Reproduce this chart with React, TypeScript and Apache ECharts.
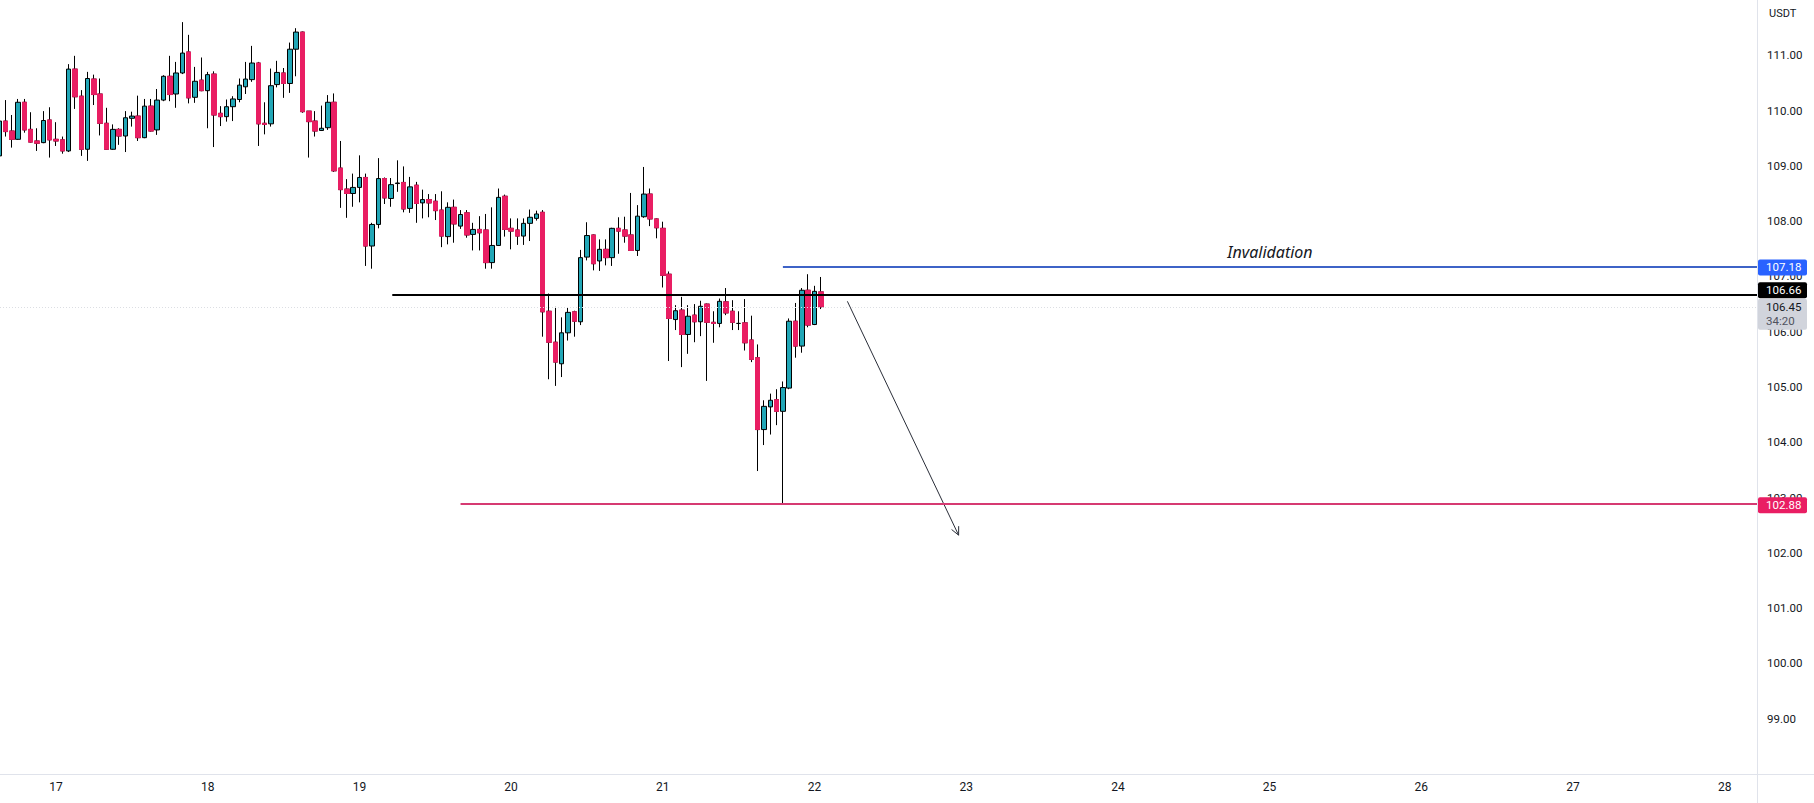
import React, { useEffect, useRef } from 'react';
import * as echarts from 'echarts';

// hourly candles; x = hours counted from the 16th 00:00
const FIRST_HOUR = 15;
const OPEN = [
  109.18, 109.81, 109.63, 109.48, 110.15, 109.66, 109.45, 109.42, 109.83, 109.48,
  109.47, 109.27, 110.75, 110.26, 109.30, 110.57, 110.30, 109.77, 109.30, 109.66,
  109.54, 109.86, 109.90, 109.51, 110.08, 109.65, 110.19, 110.62, 110.30, 110.68,
  111.06, 110.24, 110.55, 110.36, 110.66, 109.95, 109.89, 110.07, 110.20, 110.43,
  110.56, 110.86, 109.77, 109.76, 110.47, 110.68, 110.49, 111.11, 111.42, 109.99,
  109.81, 109.64, 109.69, 110.15, 108.96, 108.58, 108.50, 108.61, 108.79, 107.55,
  107.94, 108.77, 108.41, 108.68, 108.70, 108.23, 108.65, 108.33, 108.39, 108.36,
  108.20, 107.72, 108.25, 107.91, 108.15, 107.76, 107.85, 107.84, 107.25, 107.56,
  108.45, 107.87, 107.84, 107.73, 107.96, 108.05, 108.16, 106.37, 105.81, 105.42,
  105.98, 106.36, 106.18, 107.35, 107.75, 107.28, 107.49, 107.34, 107.87, 107.84,
  107.75, 107.47, 108.08, 108.49, 108.04, 107.87, 107.04, 106.22, 106.39, 105.95,
  106.30, 106.18, 106.50, 106.17, 106.15, 106.54, 106.37, 106.15, 106.16, 105.85,
  105.53, 104.23, 104.64, 104.77, 104.56, 104.98, 106.19, 105.74, 106.75, 106.13,
  106.72,
];
const CLOSE = [
  109.81, 109.62, 109.48, 110.15, 109.65, 109.43, 109.41, 109.82, 109.47, 109.45,
  109.27, 110.75, 110.25, 109.30, 110.58, 110.29, 109.77, 109.30, 109.66, 109.54,
  109.87, 109.90, 109.51, 110.08, 109.63, 110.19, 110.62, 110.29, 110.68, 111.04,
  110.23, 110.53, 110.36, 110.65, 109.92, 109.89, 110.07, 110.21, 110.46, 110.57,
  110.86, 109.76, 109.75, 110.45, 110.69, 110.49, 111.11, 111.42, 109.98, 109.80,
  109.63, 109.68, 110.15, 108.91, 108.57, 108.50, 108.61, 108.79, 107.55, 107.94,
  108.77, 108.42, 108.66, 108.69, 108.22, 108.62, 108.32, 108.39, 108.33, 108.19,
  107.73, 108.25, 107.95, 108.12, 107.75, 107.85, 107.79, 107.25, 107.56, 108.43,
  107.85, 107.82, 107.73, 107.96, 108.07, 108.13, 106.36, 105.81, 105.45, 105.98,
  106.35, 106.19, 107.34, 107.74, 107.23, 107.49, 107.34, 107.87, 107.82, 107.73,
  107.47, 108.09, 108.49, 108.04, 107.88, 107.02, 106.24, 106.38, 105.95, 106.28,
  106.18, 106.46, 106.17, 106.15, 106.55, 106.34, 106.17, 106.15, 105.80, 105.50,
  104.23, 104.65, 104.76, 104.56, 104.99, 106.19, 105.74, 106.75, 106.12, 106.73,
  106.45,
];
const HIGH = [
  109.95, 110.19, 109.92, 110.21, 110.21, 109.97, 109.68, 109.99, 110.06, 109.79,
  109.53, 110.84, 110.99, 110.37, 110.70, 110.65, 110.58, 110.05, 109.75, 109.68,
  109.99, 109.98, 110.27, 110.21, 110.21, 110.39, 110.64, 110.99, 110.88, 111.60,
  111.37, 110.79, 110.96, 110.70, 110.71, 110.08, 110.20, 110.26, 110.58, 110.88,
  111.17, 110.88, 110.15, 110.76, 110.90, 110.77, 111.23, 111.49, 111.43, 109.99,
  109.99, 110.09, 110.28, 110.31, 109.45, 108.76, 108.86, 109.19, 108.86, 107.97,
  109.14, 108.79, 108.78, 109.10, 108.99, 108.80, 108.71, 108.57, 108.49, 108.49,
  108.54, 108.34, 108.39, 108.20, 108.20, 107.97, 108.09, 108.13, 108.25, 108.59,
  108.48, 108.05, 108.05, 108.05, 108.21, 108.19, 108.20, 106.69, 106.45, 106.26,
  106.43, 106.38, 107.48, 107.98, 107.76, 107.67, 107.67, 107.88, 108.07, 108.08,
  108.51, 108.29, 108.98, 108.59, 108.05, 107.99, 107.09, 106.48, 106.63, 106.48,
  106.50, 106.56, 106.51, 106.37, 106.60, 106.79, 106.57, 106.37, 106.59, 106.29,
  105.77, 104.76, 104.88, 104.96, 105.10, 106.24, 106.52, 106.79, 107.04, 106.83,
  106.99,
];
const LOW = [
  109.16, 109.53, 109.33, 109.47, 109.60, 109.42, 109.27, 109.41, 109.15, 109.36,
  109.22, 109.25, 110.03, 109.18, 109.09, 110.10, 109.55, 109.29, 109.29, 109.38,
  109.25, 109.71, 109.45, 109.50, 109.62, 109.56, 110.17, 110.17, 110.05, 110.66,
  110.13, 110.14, 110.35, 109.68, 109.34, 109.72, 109.80, 109.81, 110.15, 110.30,
  110.52, 109.36, 109.57, 109.71, 110.42, 110.23, 110.32, 110.62, 109.96, 109.15,
  109.53, 109.63, 109.65, 108.89, 108.24, 108.06, 108.26, 108.34, 107.19, 107.14,
  107.87, 108.31, 108.26, 108.53, 108.16, 108.15, 107.97, 108.05, 108.07, 108.02,
  107.53, 107.58, 107.61, 107.86, 107.70, 107.47, 107.47, 107.14, 107.14, 107.55,
  107.72, 107.49, 107.57, 107.57, 107.64, 108.01, 105.91, 105.14, 105.02, 105.18,
  105.84, 105.91, 106.12, 107.29, 107.11, 107.10, 107.20, 107.19, 107.41, 107.61,
  107.46, 107.37, 108.06, 107.91, 107.69, 106.80, 105.47, 106.03, 105.36, 105.60,
  105.81, 105.92, 105.11, 105.80, 106.08, 106.30, 106.03, 106.03, 105.66, 105.45,
  103.48, 103.95, 104.14, 104.31, 102.88, 104.96, 105.53, 105.62, 106.08, 106.12,
  106.41,
];

// axes
const X_MIN = 15.14;
const X_MAX = 293.11;
const DAY_TICKS = [24, 48, 72, 96, 120, 144, 168, 192, 216, 240, 264, 288];
const DAY_LABELS = ['17', '18', '19', '20', '21', '22', '23', '24', '25', '26', '27', '28'];
const Y_MIN = 98;
const Y_MAX = 112;
const Y_STEP = 1;
const CURRENCY = 'USDT';

// drawings
const SUPPORT_LEVEL = 106.66;
const SUPPORT_FROM = 77.2;
const INVALIDATION_LEVEL = 107.18;
const INVALIDATION_FROM = 139.0;
const INVALIDATION_TEXT = 'Invalidation';
const TARGET_LEVEL = 102.88;
const TARGET_FROM = 88.0;
const LAST_PRICE = 106.45;
const COUNTDOWN = '34:20';
const ARROW = [149.2, 106.55, 166.8, 102.32];

// price tags on the scale
const TAG_PRICES = [INVALIDATION_LEVEL, SUPPORT_LEVEL, LAST_PRICE, TARGET_LEVEL];
const TAG_TEXT = ['107.18', '106.66', '106.45', '102.88'];
const TAG_SUB = ['', '', COUNTDOWN, ''];
const TAG_BG = ['#2962FF', '#000000', '#D1D4DC', '#E91E63'];
const TAG_FG = ['#FFFFFF', '#FFFFFF', '#131722', '#FFFFFF'];
const TAG_SHIFT = [1, -5, 0, 1];

const UP = '#22A7B7';
const DOWN = '#E91E63';
const FONT = 'Roboto, "Liberation Sans", sans-serif';

export default function App() {
  const ref = useRef<HTMLDivElement>(null);
  useEffect(() => {
    if (!ref.current) return;
    const chart = echarts.init(ref.current, null, { renderer: 'svg' });
    const candles = OPEN.map((o, i) => [FIRST_HOUR + i, o, CLOSE[i], LOW[i], HIGH[i]]);
    const downBodies = candles
      .filter((d) => d[2] < d[1])
      .map((d) => [d[0], d[1], d[2], d[2], d[1]]);

    chart.setOption({
      animation: false,
      backgroundColor: '#ffffff',
      grid: { left: 0, right: 57, top: 0, bottom: 29, containLabel: false },
      xAxis: {
        type: 'value',
        min: X_MIN,
        max: X_MAX,
        axisLine: { show: false },
        axisTick: { show: false },
        splitLine: { show: false },
        axisLabel: {
          customValues: DAY_TICKS,
          formatter: (v: number) => {
            const k = DAY_TICKS.indexOf(Math.round(v));
            return k >= 0 ? DAY_LABELS[k] : '';
          },
          color: '#131722',
          fontSize: 12,
          fontFamily: FONT,
          margin: 7,
        },
      },
      yAxis: {
        type: 'value',
        position: 'right',
        min: Y_MIN,
        max: Y_MAX,
        interval: Y_STEP,
        axisLine: { show: false },
        axisTick: { show: false },
        splitLine: { show: false },
        axisLabel: {
          showMinLabel: false,
          showMaxLabel: false,
          formatter: (v: number) => v.toFixed(2),
          color: '#131722',
          fontSize: 11.5,
          fontFamily: FONT,
          margin: 10,
        },
      },
      graphic: [
        { type: 'line', silent: true, shape: { x1: 0, y1: 774.5, x2: 1814, y2: 774.5 }, style: { stroke: '#E0E3EB', lineWidth: 1 } },
        { type: 'line', silent: true, shape: { x1: 1757.5, y1: 0, x2: 1757.5, y2: 803 }, style: { stroke: '#E0E3EB', lineWidth: 1 } },
        { type: 'text', silent: true, x: 1769, y: 8, style: { text: CURRENCY, fill: '#131722', fontSize: 11, fontFamily: FONT } },
      ],
      series: [
        {
          type: 'candlestick',
          data: candles,
          barWidth: 5,
          itemStyle: { color: UP, color0: DOWN, borderColor: '#000000', borderColor0: '#000000', borderColorDoji: '#000000', borderWidth: 1 },
          markLine: {
            silent: true,
            symbol: 'none',
            animation: false,
            label: { show: false },
            data: [
              [
                { coord: [X_MIN, LAST_PRICE], lineStyle: { color: '#DCDEE3', width: 1, type: [1, 2] } },
                { coord: [X_MAX, LAST_PRICE] },
              ],
              [
                { coord: [SUPPORT_FROM, SUPPORT_LEVEL], lineStyle: { color: '#000000', width: 2, type: 'solid' } },
                { coord: [X_MAX, SUPPORT_LEVEL] },
              ],
              [
                {
                  coord: [INVALIDATION_FROM, INVALIDATION_LEVEL],
                  lineStyle: { color: '#3E63C7', width: 2, type: 'solid' },
                  label: {
                    show: true,
                    formatter: INVALIDATION_TEXT,
                    position: 'insideMiddleTop',
                    distance: 6,
                    color: '#131722',
                    fontStyle: 'italic',
                    fontSize: 16,
                    fontFamily: '"Noto Sans", sans-serif',
                  },
                },
                { coord: [X_MAX, INVALIDATION_LEVEL] },
              ],
              [
                { coord: [TARGET_FROM, TARGET_LEVEL], lineStyle: { color: '#D63A72', width: 2, type: 'solid' } },
                { coord: [X_MAX, TARGET_LEVEL] },
              ],
            ],
          },
        },
        {
          type: 'candlestick',
          data: downBodies,
          barWidth: 5,
          silent: true,
          itemStyle: { color: UP, color0: DOWN, borderColor: DOWN, borderColor0: DOWN, borderWidth: 1 },
        },
        {
          type: 'custom',
          coordinateSystem: 'cartesian2d',
          silent: true,
          data: [ARROW],
          encode: { x: [0, 2], y: [1, 3] },
          renderItem: (params: any, api: any) => {
            const p1 = api.coord([api.value(0), api.value(1)]);
            const p2 = api.coord([api.value(2), api.value(3)]);
            const ang = Math.atan2(p2[1] - p1[1], p2[0] - p1[0]);
            const L = 9;
            const s = 0.45;
            const h1 = [p2[0] - L * Math.cos(ang - s), p2[1] - L * Math.sin(ang - s)];
            const h2 = [p2[0] - L * Math.cos(ang + s), p2[1] - L * Math.sin(ang + s)];
            return {
              type: 'group',
              children: [
                { type: 'line', shape: { x1: p1[0], y1: p1[1], x2: p2[0], y2: p2[1] }, style: { stroke: '#2A2E39', lineWidth: 1 } },
                { type: 'polyline', shape: { points: [h1, p2, h2] }, style: { stroke: '#2A2E39', lineWidth: 1, fill: 'none' } },
              ],
            };
          },
        },
        {
          type: 'custom',
          coordinateSystem: 'cartesian2d',
          silent: true,
          clip: false,
          z: 10,
          data: TAG_PRICES.map((p) => [X_MAX, p]),
          encode: { x: 0, y: 1 },
          renderItem: (params: any, api: any) => {
            const i = params.dataIndex;
            const y = api.coord([api.value(0), api.value(1)])[1] + TAG_SHIFT[i];
            const x0 = params.coordSys.x + params.coordSys.width + 1;
            const two = TAG_SUB[i] !== '';
            const h = two ? 31 : 16;
            const children: any[] = [
              { type: 'rect', shape: { x: x0, y: y - 8, width: 49, height: h, r: 2 }, style: { fill: TAG_BG[i] } },
              { type: 'text', style: { x: x0 + 8, y: y, text: TAG_TEXT[i], fill: TAG_FG[i], fontSize: 11.5, fontFamily: FONT, verticalAlign: 'middle', align: 'left' } },
            ];
            if (two) {
              children.push({ type: 'text', style: { x: x0 + 8, y: y + 14, text: TAG_SUB[i], fill: '#50535E', fontSize: 11.5, fontFamily: FONT, verticalAlign: 'middle', align: 'left' } });
            }
            return { type: 'group', children };
          },
        },
      ],
    });
    return () => chart.dispose();
  }, []);
  return <div ref={ref} style={{ position: 'fixed', left: 0, top: 0, width: 1814, height: 803, background: '#fff' }} />;
}
